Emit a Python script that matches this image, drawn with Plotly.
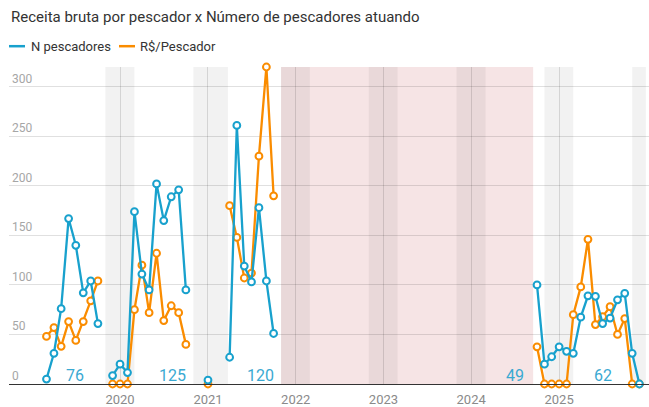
import plotly.graph_objects as go

# ---------------- data ----------------
months = [
    "2019-03-01", "2019-04-01", "2019-05-01", "2019-06-01", "2019-07-01", "2019-08-01",
    "2019-09-01", "2019-10-01", "2019-11-01",
    "2019-12-01", "2020-01-01", "2020-02-01", "2020-03-01", "2020-04-01", "2020-05-01",
    "2020-06-01", "2020-07-01", "2020-08-01", "2020-09-01", "2020-10-01", "2020-11-01",
    "2021-01-01", "2021-02-01",
    "2021-04-01", "2021-05-01", "2021-06-01", "2021-07-01", "2021-08-01", "2021-09-01",
    "2021-10-01", "2021-11-01",
    "2024-10-01", "2024-11-01", "2024-12-01", "2025-01-01", "2025-02-01", "2025-03-01",
    "2025-04-01", "2025-05-01", "2025-06-01", "2025-07-01", "2025-08-01", "2025-09-01",
    "2025-10-01", "2025-11-01", "2025-12-01",
]

n_pescadores = [
    5, 31, 76, 167, 140, 92, 104, 61, None,
    8.5, 20, 11.5, 174, 111, 95, 202, 165, 189, 196, 95, None,
    4, None,
    27, 261, 119, 103, 178, 104, 51, None,
    100, 20, 27.5, 37.5, 33, 31, 67.5, 89, 88.5, 61, 66.5, 85, 91.5, 31, 0,
]

rs_por_pescador = [
    48, 57, 38, 63, 44, 63, 84, 104, None,
    0, 0, 0, 75, 120, 72, 132, 64, 79, 72, 40, None,
    0, None,
    180, 148, 107, 112, 230, 320, 190, None,
    37.5, 0, 0, 0, 0, 70, 98, 146, 60, 68, 78, 50, 66, 0, 0,
]

series_names = ["N pescadores", "R$/Pescador"]

season_labels = ["76", "125", "120", "49", "62"]
season_label_dates = ["2019-06-28", "2020-08-07", "2021-08-06", "2024-07-02", "2025-07-03"]

year_ticks = ["2020-01-01", "2021-01-01", "2022-01-01", "2023-01-01", "2024-01-01", "2025-01-01"]
year_labels = ["2020", "2021", "2022", "2023", "2024", "2025"]
y_ticks = [0, 50, 100, 150, 200, 250, 300]

pink_period = ("2021-11-01", "2024-09-15")
gray_periods = [
    ("2019-11-01", "2020-03-01"),
    ("2020-11-01", "2021-03-25"),
    ("2021-11-01", "2022-03-01"),
    ("2022-11-01", "2023-03-01"),
    ("2023-11-01", "2024-03-01"),
    ("2024-11-01", "2025-03-01"),
    ("2025-11-01", "2025-12-28"),
]

# ---------------- style ----------------
BLUE = "#18a1cd"
ORANGE = "#fa8c00"
FONT = "Roboto"
W, H = 649, 407
L, R, T, B = 9, 0, 67, 20
PW, PH = W - L - R, H - T - B


def px_x(px):
    return (px - L) / PW


def px_y(py):
    return (H - B - py) / PH


fig = go.Figure()

fig.add_trace(go.Scatter(
    x=months, y=rs_por_pescador, name=series_names[1], mode="lines+markers",
    line=dict(color=ORANGE, width=2.3),
    marker=dict(size=6.8, color="white", line=dict(color=ORANGE, width=2)),
    connectgaps=False, cliponaxis=False, showlegend=False,
))
fig.add_trace(go.Scatter(
    x=months, y=n_pescadores, name=series_names[0], mode="lines+markers",
    line=dict(color=BLUE, width=2.3),
    marker=dict(size=6.8, color="white", line=dict(color=BLUE, width=2)),
    connectgaps=False, cliponaxis=False, showlegend=False,
))

shapes = []
shapes.append(dict(type="rect", xref="x", yref="paper", x0=pink_period[0], x1=pink_period[1],
                   y0=0, y1=1, fillcolor="#f6e4e5", line=dict(width=0), layer="below"))
for a, b in gray_periods:
    shapes.append(dict(type="rect", xref="x", yref="paper", x0=a, x1=b, y0=0, y1=1,
                       fillcolor="rgba(0,0,0,0.05)", line=dict(width=0), layer="below"))

# legend (manual)
shapes.append(dict(type="line", xref="paper", yref="paper", x0=px_x(9), x1=px_x(25),
                   y0=px_y(46), y1=px_y(46), line=dict(color=BLUE, width=2.5)))
shapes.append(dict(type="line", xref="paper", yref="paper", x0=px_x(119), x1=px_x(135),
                   y0=px_y(46), y1=px_y(46), line=dict(color=ORANGE, width=2.5)))

annotations = [
    dict(text="Receita bruta por pescador x Número de pescadores atuando", xref="paper", yref="paper",
         x=px_x(9), y=px_y(17), xanchor="left", yanchor="middle", showarrow=False,
         font=dict(family=FONT, size=15, color="#333333")),
    dict(text=series_names[0], xref="paper", yref="paper", x=px_x(29), y=px_y(46),
         xanchor="left", yanchor="middle", showarrow=False,
         font=dict(family=FONT, size=13, color="#333333")),
    dict(text=series_names[1], xref="paper", yref="paper", x=px_x(138), y=px_y(46),
         xanchor="left", yanchor="middle", showarrow=False,
         font=dict(family=FONT, size=13, color="#333333")),
]
for t, d in zip(season_labels, season_label_dates):
    annotations.append(dict(text=t, x=d, y=9, xref="x", yref="y", xanchor="center",
                            yanchor="middle", showarrow=False,
                            font=dict(family=FONT, size=16, color="#3aa9d2")))

fig.update_layout(
    width=W, height=H,
    margin=dict(l=L, r=R, t=T, b=B, pad=0),
    paper_bgcolor="white", plot_bgcolor="white",
    font=dict(family=FONT),
    shapes=shapes, annotations=annotations,
    showlegend=False,
    xaxis=dict(
        type="date", range=["2018-09-26", "2026-01-10"],
        tickvals=year_ticks, ticktext=year_labels,
        showgrid=True, gridcolor="rgba(0,0,0,0.12)", gridwidth=1,
        showline=True, linecolor="#333333", linewidth=1.3,
        ticks="", zeroline=False, ticklabelstandoff=3,
        tickfont=dict(family=FONT, size=13, color="#8a8a8a"),
        fixedrange=True,
    ),
    yaxis=dict(
        range=[0, 320], tickvals=y_ticks,
        ticklabelposition="inside top",
        showgrid=True, gridcolor="rgba(0,0,0,0.12)", gridwidth=1,
        zeroline=False, showline=False, ticks="",
        tickfont=dict(family=FONT, size=12, color="#a6a6a6"),
        fixedrange=True,
    ),
)

fig.write_html("out.html", config={"displayModeBar": False},
               post_script="document.body.style.margin='0';document.body.style.overflow='hidden';")
